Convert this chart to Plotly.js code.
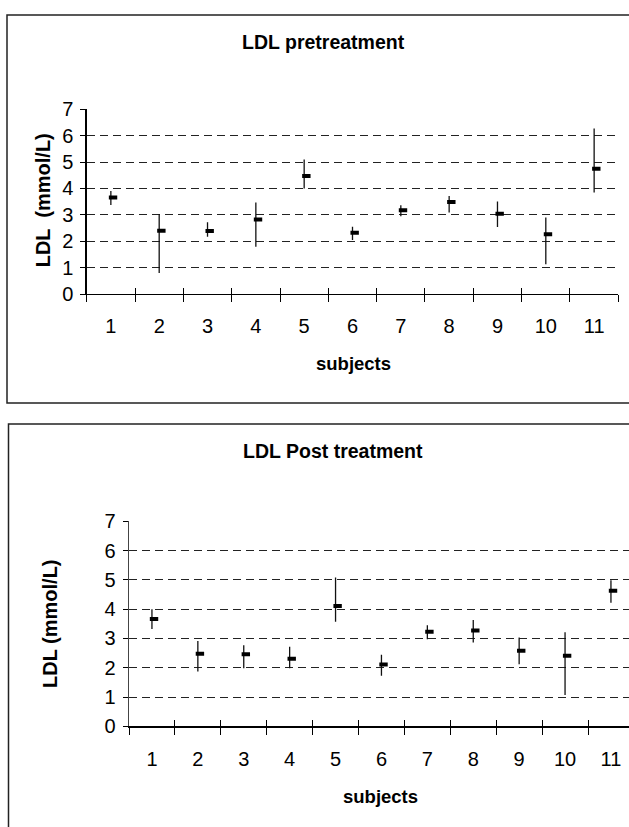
<!DOCTYPE html>
<html><head><meta charset="utf-8">
<script src="https://cdn.plot.ly/plotly-3.0.1.min.js"></script>
<style>html,body{margin:0;padding:0;background:#fff}#chart{width:629px;height:827px}</style>
</head><body><div id="chart"></div>
<script>
// ---- data ----
const subjects = [1, 2, 3, 4, 5, 6, 7, 8, 9, 10, 11];
const subjectLabels = ['1', '2', '3', '4', '5', '6', '7', '8', '9', '10', '11'];
const preHigh  = [3.90, 3.02, 2.72, 3.47, 5.10, 2.55, 3.36, 3.71, 3.51, 2.90, 6.27];
const preLow   = [3.37, 0.80, 2.17, 1.79, 4.00, 2.05, 2.95, 3.09, 2.54, 1.13, 3.85];
const preClose = [3.66, 2.40, 2.39, 2.82, 4.47, 2.32, 3.17, 3.49, 3.04, 2.26, 4.75];
const postHigh  = [4.00, 2.91, 2.77, 2.72, 5.08, 2.44, 3.45, 3.63, 3.03, 3.21, 4.99];
const postLow   = [3.32, 1.87, 1.98, 1.98, 3.57, 1.73, 2.97, 2.86, 2.12, 1.07, 4.22];
const postClose = [3.66, 2.48, 2.46, 2.31, 4.11, 2.11, 3.23, 3.27, 2.58, 2.41, 4.63];
const yTicks = [0, 1, 2, 3, 4, 5, 6, 7];

// ---- layout helpers ----
const W = 629, H = 827;
const px = v => v / W;
const py = v => 1 - v / H;
const FONT = 'Liberation Sans, Arial, sans-serif';
const bounds = subjects.map(s => s - 0.5).concat([subjects[subjects.length - 1] + 0.5]);
const CLOSE_SHIFT = 0.045;

function hlTrace(high, low, close, xa, ya) {
  return {
    type: 'scatter', mode: 'markers', x: subjects, y: close, xaxis: xa, yaxis: ya,
    marker: {size: 1, opacity: 0},
    error_y: {type: 'data', symmetric: false,
      array: high.map((h, i) => h - close[i]),
      arrayminus: low.map((l, i) => close[i] - l),
      width: 0, thickness: 1.3, color: '#111'},
    hoverinfo: 'skip', showlegend: false
  };
}
function closeTrace(close, xa, ya) {
  return {
    type: 'scatter', mode: 'markers', x: subjects.map(s => s + CLOSE_SHIFT), y: close,
    xaxis: xa, yaxis: ya,
    marker: {symbol: 'line-ew', size: 6, color: '#000', line: {width: 4, color: '#000'}},
    hoverinfo: 'skip', showlegend: false
  };
}
// invisible carrier so that overlay axes (extra tick layers) get drawn
function carrier(close, xa, ya) {
  return {type: 'scatter', mode: 'none', x: subjects, y: close, xaxis: xa, yaxis: ya,
    hoverinfo: 'skip', showlegend: false};
}

function yAxis(domain, anchor, lineColor) {
  return {
    domain: domain, anchor: anchor, range: [0, 7], tickmode: 'array', tickvals: yTicks,
    ticks: 'outside', ticklen: 5, tickcolor: '#000', tickwidth: 1,
    showline: true, linecolor: lineColor, linewidth: 1.3,
    showgrid: true, gridcolor: '#222', gridwidth: 1, griddash: '8px,5px',
    zeroline: false, ticklabelstandoff: 3,
    tickfont: {family: FONT, size: 20, color: '#000'}, fixedrange: true
  };
}
function xMain(domain, range, anchor) {
  return {
    domain: domain, range: range, anchor: anchor, tickmode: 'array', tickvals: bounds,
    ticks: 'outside', ticklen: 7, tickcolor: '#000', tickwidth: 1,
    showticklabels: false, showline: true, linecolor: '#000', linewidth: 1.3,
    showgrid: false, zeroline: false, fixedrange: true
  };
}
function xInside(over, range, anchor) {
  return {
    overlaying: over, range: range, anchor: anchor, tickmode: 'array', tickvals: bounds,
    ticks: 'inside', ticklen: 6, tickcolor: '#000', tickwidth: 1,
    showticklabels: false, showline: false, showgrid: false, zeroline: false, fixedrange: true
  };
}
function xLabels(over, range, anchor, standoff) {
  return {
    overlaying: over, range: range, anchor: anchor, tickmode: 'array',
    tickvals: subjects, ticktext: subjectLabels, ticks: '',
    showline: false, showgrid: false, zeroline: false, ticklabelstandoff: standoff,
    tickfont: {family: FONT, size: 20, color: '#000'}, fixedrange: true
  };
}

const topRange = [0.5, 11.5];
const botRange = [0.5, 0.5 + (629 - 129) / 45.9];

const data = [
  hlTrace(preHigh, preLow, preClose, 'x', 'y'),
  closeTrace(preClose, 'x', 'y'),
  carrier(preClose, 'x3', 'y'),
  carrier(preClose, 'x5', 'y'),
  hlTrace(postHigh, postLow, postClose, 'x2', 'y2'),
  closeTrace(postClose, 'x2', 'y2'),
  carrier(postClose, 'x4', 'y2'),
  carrier(postClose, 'x6', 'y2')
];

function ann(text, x, y, size, angle) {
  return {text: text, x: px(x), y: py(y), xref: 'paper', yref: 'paper',
    xanchor: 'center', yanchor: 'middle', showarrow: false, textangle: angle || 0,
    font: {family: FONT, size: size, color: '#000', weight: 'bold'}};
}

const layout = {
  width: W, height: H, margin: {l: 0, r: 0, t: 0, b: 0, pad: 0},
  paper_bgcolor: '#fff', plot_bgcolor: 'rgba(0,0,0,0)', showlegend: false,
  font: {family: FONT, color: '#000'},
  xaxis: xMain([px(86.7), px(618.3)], topRange, 'y'),
  yaxis: yAxis([py(294), py(109.3)], 'x', '#000'),
  xaxis3: xInside('x', topRange, 'y'),
  xaxis5: xLabels('x', topRange, 'y', 18),
  xaxis2: xMain([px(129), 1], botRange, 'y2'),
  yaxis2: yAxis([py(726.3), py(521.3)], 'x2', '#444'),
  xaxis4: xInside('x2', botRange, 'y2'),
  xaxis6: xLabels('x2', botRange, 'y2', 19),
  shapes: [
    {type: 'rect', xref: 'paper', yref: 'paper', x0: px(7), x1: px(640), y0: py(403), y1: py(15),
     line: {color: '#222', width: 1.5}, fillcolor: 'rgba(0,0,0,0)'},
    {type: 'rect', xref: 'paper', yref: 'paper', x0: px(8.5), x1: px(640), y0: py(900), y1: py(424),
     line: {color: '#222', width: 1.5}, fillcolor: 'rgba(0,0,0,0)'}
  ],
  annotations: [
    ann('LDL pretreatment', 323, 42, 19.5),
    ann('subjects', 353, 363, 18.5),
    ann('LDL  (mmol/L)', 43.3, 200, 20, -90),
    ann('LDL Post treatment', 333, 451, 19.5),
    ann('subjects', 381, 796, 18.5),
    ann('LDL (mmol/L)', 50, 624, 20, -90)
  ]
};

Plotly.newPlot('chart', data, layout, {displayModeBar: false, staticPlot: true});
</script>
</body></html>
